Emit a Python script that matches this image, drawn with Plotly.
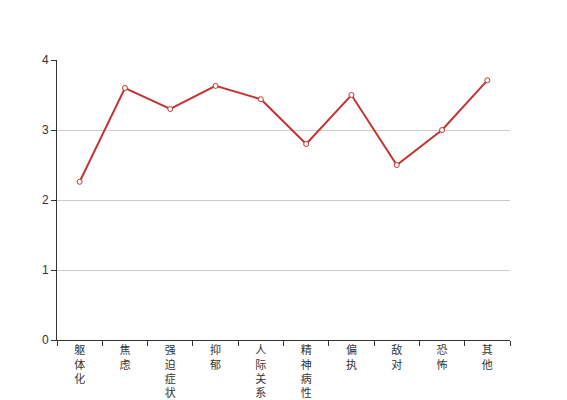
import plotly.graph_objects as go

categories = ["躯体化", "焦虑", "强迫症状", "抑郁", "人际关系敏感", "精神病性", "偏执", "敌对", "恐怖", "其他"]
values = [2.26, 3.6, 3.3, 3.63, 3.44, 2.8, 3.5, 2.5, 3.0, 3.71]
y_ticks = [0, 1, 2, 3, 4]

tick_text = ["<br>".join(list(c)) for c in categories]

fig = go.Figure()
fig.add_trace(go.Scatter(
    x=categories, y=values, mode="lines+markers",
    line=dict(color="#c23531", width=2),
    marker=dict(symbol="circle", size=5, color="white",
                line=dict(color="#c23531", width=1)),
    showlegend=False,
))

fig.update_layout(
    width=559, height=392,
    margin=dict(l=49, r=57, t=52, b=60, autoexpand=False),
    paper_bgcolor="white", plot_bgcolor="white",
    font=dict(family="Liberation Sans, Noto Sans CJK SC, sans-serif", size=12, color="#333"),
)
fig.update_xaxes(
    type="category", tickmode="array", tickvals=categories, ticktext=tick_text,
    tickson="boundaries", ticks="outside", ticklen=5, tickcolor="#333",
    showline=True, linecolor="#333", linewidth=1, showgrid=False,
    range=[-0.5, 9.5], tickangle=0, automargin=False,
    tickfont=dict(size=11, color="#333"),
)
fig.update_yaxes(
    range=[0, 4], tickvals=y_ticks, ticks="outside", ticklen=5, tickcolor="#333",
    showline=True, linecolor="#333", linewidth=1, automargin=False,
    showgrid=True, gridcolor="#ccc", gridwidth=1, zeroline=False,
    tickfont=dict(size=12, color="#333"),
)

fig.write_html("out.html")
